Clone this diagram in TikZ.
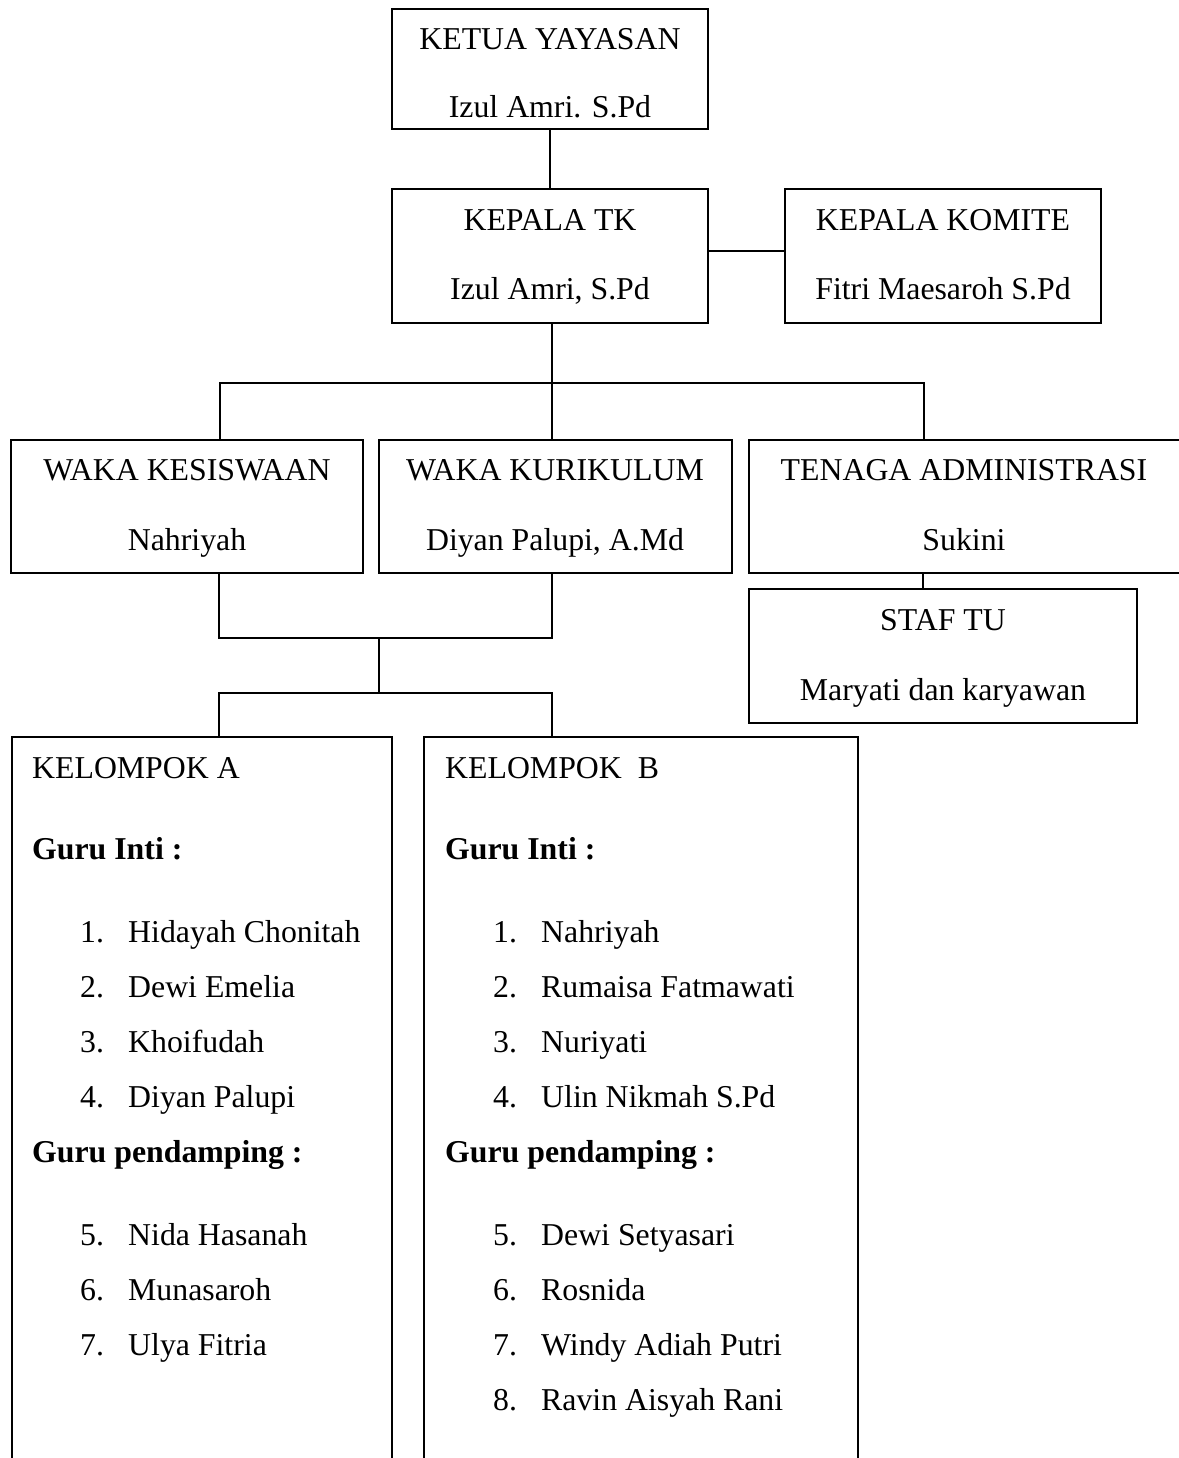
\documentclass[tikz,border=0pt]{standalone}
\usepackage{fontspec}
\setmainfont{Liberation Serif}
\begin{document}
\begin{tikzpicture}[x=1pt,y=-1pt,
  box/.style={draw, line width=1.6pt, rectangle, inner sep=0pt, outer sep=0pt},
  txt/.style={anchor=base, inner sep=0pt, font=\fontsize{31.8}{38}\selectfont},
  ltxt/.style={anchor=base west, inner sep=0pt, font=\fontsize{31.8}{38}\selectfont},
  btxt/.style={anchor=base west, inner sep=0pt, font=\fontsize{31.8}{38}\selectfont\bfseries},
  conn/.style={line width=1.6pt}]
\useasboundingbox (0,0) rectangle (1178,1458);

% boxes
\node[box, minimum width=316pt, minimum height=120pt] (ketua) at (550,69) {};
\node[box, minimum width=316pt, minimum height=134pt] (tk) at (550,256) {};
\node[box, minimum width=316pt, minimum height=134pt] (komite) at (943,256) {};
\node[box, minimum width=352pt, minimum height=133pt] (kes) at (187,506.5) {};
\node[box, minimum width=353pt, minimum height=133pt] (kur) at (555.5,506.5) {};
\node[box, minimum width=432pt, minimum height=133pt] (tenaga) at (965,506.5) {};
\node[box, minimum width=388pt, minimum height=134pt] (staf) at (943,656) {};
\node[box, minimum width=380pt, minimum height=740pt] (kela) at (202,1107) {};
\node[box, minimum width=434pt, minimum height=740pt] (kelb) at (641,1107) {};

% texts in boxes
\node[txt] (t1) at (550,50) {KETUA YAYASAN};
\node[txt] (t2) at (550,118) {Izul Amri. S.Pd};
\node[txt] (t3) at (550,230) {KEPALA TK};
\node[txt] (t4) at (550,299) {Izul Amri, S.Pd};
\node[txt] (t5) at (943,230) {KEPALA KOMITE};
\node[txt] (t6) at (943,299) {Fitri Maesaroh S.Pd};
\node[txt] (t7) at (187,480) {WAKA KESISWAAN};
\node[txt] (t8) at (187,550) {Nahriyah};
\node[txt] (t9) at (555,480) {WAKA KURIKULUM};
\node[txt] (t10) at (555,550) {Diyan Palupi, A.Md};
\node[txt] (t11) at (964,480) {TENAGA ADMINISTRASI};
\node[txt] (t12) at (964,550) {Sukini};
\node[txt] (t13) at (943,630) {STAF TU};
\node[txt] (t14) at (943,700) {Maryati dan karyawan};

% Kelompok A
\node[ltxt] (a0) at (32,778) {KELOMPOK A};
\node[btxt] (a1) at (32,859) {Guru Inti :};
\foreach \n/\name/\yy in {1/Hidayah Chonitah/942, 2/Dewi Emelia/997, 3/Khoifudah/1052, 4/Diyan Palupi/1107, 5/Nida Hasanah/1245, 6/Munasaroh/1300, 7/Ulya Fitria/1355}{
  \node[ltxt] (an\n) at (80,\yy) {\n.};
  \node[ltxt] (am\n) at (128,\yy) {\name};
}
\node[btxt] (a2) at (32,1162) {Guru pendamping :};

% Kelompok B
\node[ltxt] (b0) at (445,778) {KELOMPOK\ \ B};
\node[btxt] (b1) at (445,859) {Guru Inti :};
\foreach \n/\name/\yy in {1/Nahriyah/942, 2/Rumaisa Fatmawati/997, 3/Nuriyati/1052, 4/Ulin Nikmah S.Pd/1107, 5/Dewi Setyasari/1245, 6/Rosnida/1300, 7/Windy Adiah Putri/1355, 8/Ravin Aisyah Rani/1410}{
  \node[ltxt] (bn\n) at (493,\yy) {\n.};
  \node[ltxt] (bm\n) at (541,\yy) {\name};
}
\node[btxt] (b2) at (445,1162) {Guru pendamping :};

% connector points
\coordinate (j1) at (552,383);
\coordinate (j2) at (220,383);
\coordinate (j3) at (924,383);
\coordinate (k1) at (219,638);
\coordinate (k2) at (552,638);
\coordinate (k3) at (379,638);
\coordinate (k4) at (379,693);
\coordinate (k5) at (219,693);
\coordinate (k6) at (552,693);

% connectors
\draw[conn] (ketua.south) -- (tk.north);
\draw[conn] ([yshift=5pt]tk.east) -- ([yshift=5pt]komite.west);
\draw[conn] (tk.south -| j1) -- (j1);
\draw[conn] (j2 |- kes.north) -- (j2) -- (j3) -- (j3 |- tenaga.north);
\draw[conn] (j1) -- (j1 |- kur.north);
\draw[conn] (k1 |- kes.south) -- (k1) -- (k2) -- (k2 |- kur.south);
\draw[conn] (k3) -- (k4);
\draw[conn] (k5 |- kela.north) -- (k5) -- (k6) -- (k6 |- kelb.north);
\draw[conn] (tenaga.south -| 923,0) -- (staf.north -| 923,0);
\end{tikzpicture}
\end{document}
